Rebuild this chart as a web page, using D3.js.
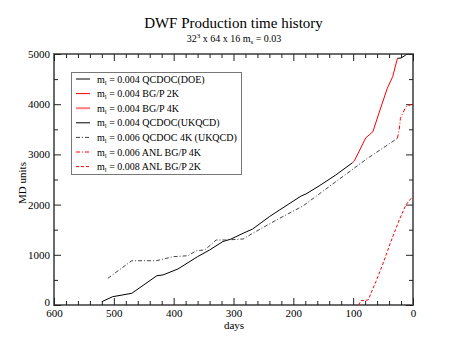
<!DOCTYPE html>
<html><head><meta charset="utf-8">
<script src="https://cdn.jsdelivr.net/npm/d3@7"></script>
<style>body{margin:0;background:#fff}svg{display:block}text{font-family:"Liberation Serif","Times New Roman",serif;fill:#000}</style>
</head><body><svg id="c" width="466" height="360"></svg>
<script>
const doeDays = [520, 502, 470, 428, 418, 393, 360, 340, 318, 304, 284, 268, 240, 223, 187, 179, 157, 129, 101];
const doeMD   = [66, 165, 233, 584, 598, 717, 963, 1096, 1262, 1315, 1428, 1514, 1760, 1893, 2171, 2211, 2371, 2590, 2835];
const bgp2kDays = [101, 98, 79, 73, 67, 57, 43, 34, 26];
const bgp2kMD   = [2835, 2870, 3330, 3390, 3452, 3819, 4316, 4548, 4914];
const bgp4kDays = [];
const bgp4kMD   = [];
const ukqcdDays = [26, 20, 12];
const ukqcdMD   = [4914, 4920, 4980];
const q4kDays = [510, 470, 429, 401, 376, 362, 348, 329, 312, 284, 268, 223, 184, 129, 76, 26];
const q4kMD   = [532, 882, 882, 962, 982, 1082, 1096, 1295, 1295, 1315, 1428, 1727, 1972, 2456, 2922, 3320];
const anl4kDays = [26, 23, 21, 12, 4, 0];
const anl4kMD   = [3320, 3500, 3719, 3950, 3990, 4000];
const anl2kDays = [91, 87, 75, 62, 51, 37, 23, 12, 1];
const anl2kMD   = [0, 86, 100, 464, 797, 1261, 1693, 1992, 2157];

const xMajor = [600, 500, 400, 300, 200, 100, 0];
const yMajor = [0, 1000, 2000, 3000, 4000, 5000];

const series = [
  {num:"0.004", name:"QCDOC(DOE)", d:doeDays, v:doeMD, color:"#000", w:1, dash:null},
  {num:"0.004", name:"BG/P 2K", d:bgp2kDays, v:bgp2kMD, color:"#ff0000", w:1, dash:null},
  {num:"0.004", name:"BG/P 4K", d:bgp4kDays, v:bgp4kMD, color:"#ff8080", w:2, dash:null},
  {num:"0.004", name:"QCDOC(UKQCD)", d:ukqcdDays, v:ukqcdMD, color:"#000", w:1, dash:null},
  {num:"0.006", name:"QCDOC 4K (UKQCD)", d:q4kDays, v:q4kMD, color:"#444", w:1, dash:"4,2,1,2"},
  {num:"0.006", name:"ANL BG/P 4K", d:anl4kDays, v:anl4kMD, color:"#ff0000", w:1, dash:"4,2,1,2"},
  {num:"0.008", name:"ANL BG/P 2K", d:anl2kDays, v:anl2kMD, color:"#ff0000", w:1, dash:"3,2"}
];

const svg = d3.select("#c");
const L=54, R=413, T=54, B=305;
const x = d3.scaleLinear().domain([600,0]).range([L,R]);
const y = d3.scaleLinear().domain([0,5000]).range([B,T]);
const xMinor = d3.range(0,601,20).filter(v=>v%100);
const yMinor = d3.range(500,5000,1000);

svg.append("rect").attr("x",L).attr("y",T).attr("width",R-L).attr("height",B-T)
  .attr("fill","none").attr("stroke","#6b6b6b").attr("stroke-width",2);

function ax(gen, tr, vals, size, labels){
  const g = svg.append("g").attr("transform",tr)
    .call(gen.tickValues(vals).tickSize(size).tickPadding(4).tickFormat(labels?d3.format("d"):""));
  g.select(".domain").remove();
  g.attr("font-family",null);
  g.selectAll(".tick line").attr("stroke","#222");
  g.selectAll("text").attr("font-size",11).style("font-family","'Liberation Serif', serif");
  return g;
}
ax(d3.axisBottom(x), `translate(0,${B})`, xMajor, -7, true);
ax(d3.axisBottom(x), `translate(0,${B})`, xMinor, -4, false);
ax(d3.axisTop(x), `translate(0,${T})`, xMajor, -7, false);
ax(d3.axisTop(x), `translate(0,${T})`, xMinor, -4, false);
const yl = ax(d3.axisLeft(y), `translate(${L},0)`, yMajor, -7, true);
yl.selectAll(".tick text").filter(d=>d===0).attr("dy","0.05em");
ax(d3.axisLeft(y), `translate(${L},0)`, yMinor, -4, false);
ax(d3.axisRight(y), `translate(${R},0)`, yMajor, -7, false);
ax(d3.axisRight(y), `translate(${R},0)`, yMinor, -4, false);

const line = d3.line().x(p=>x(p[0])).y(p=>y(p[1]));
series.forEach(s=>{
  if(!s.d.length) return;
  svg.append("path").datum(s.d.map((d,i)=>[d,s.v[i]]))
    .attr("d",line).attr("fill","none").attr("stroke",s.color).attr("stroke-width",s.w)
    .attr("stroke-dasharray",s.dash);
});

svg.append("text").attr("x",233.5).attr("y",28).attr("text-anchor","middle").attr("font-size",15)
  .text("DWF Production time history");
const st = svg.append("text").attr("x",234).attr("y",42).attr("text-anchor","middle").attr("font-size",10);
st.append("tspan").text("32");
st.append("tspan").attr("dy",-4).attr("font-size",7).text("3");
st.append("tspan").attr("dy",4).text(" x 64 x 16 m");
st.append("tspan").attr("dy",2).attr("font-size",7).text("s");
st.append("tspan").attr("dy",-2).text(" = 0.03");

svg.append("text").attr("x",234).attr("y",329).attr("text-anchor","middle").attr("font-size",11).text("days");
svg.append("text").attr("transform","translate(26,183) rotate(-90)").attr("text-anchor","middle")
  .attr("font-size",11).text("MD units");

svg.append("rect").attr("x",71.5).attr("y",72.5).attr("width",170).attr("height",102)
  .attr("fill","#fff").attr("stroke","#777").attr("stroke-width",1);
series.forEach((s,i)=>{
  const cy = 79 + i*14.6;
  svg.append("line").attr("x1",76).attr("x2",90).attr("y1",cy).attr("y2",cy)
    .attr("stroke",s.color).attr("stroke-width",s.w).attr("stroke-dasharray",s.dash);
  const t = svg.append("text").attr("x",97).attr("y",cy+3.5).attr("font-size",10);
  t.append("tspan").text("m");
  t.append("tspan").attr("dy",2).attr("font-size",7).text("l");
  t.append("tspan").attr("dy",-2).text(` = ${s.num} ${s.name}`);
});
</script></body></html>
